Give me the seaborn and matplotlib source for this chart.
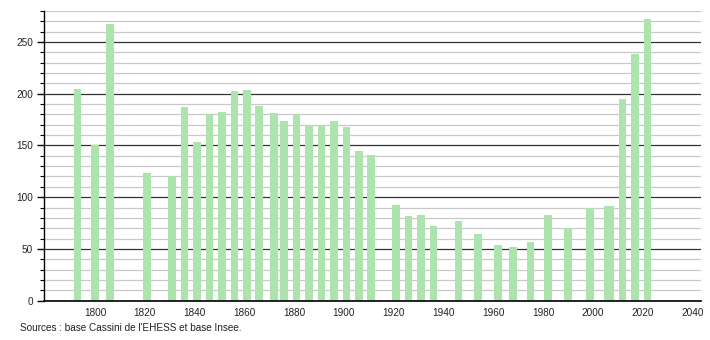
import matplotlib
matplotlib.use("Agg")
import matplotlib.pyplot as plt
import seaborn as sns
import numpy as np
import pandas as pd

years = [1793, 1800, 1806, 1821, 1831, 1836, 1841, 1846, 1851, 1856, 1861, 1866,
         1872, 1876, 1881, 1886, 1891, 1896, 1901, 1906, 1911, 1921, 1926, 1931,
         1936, 1946, 1954, 1962, 1968, 1975, 1982, 1990, 1999, 2006, 2007, 2012,
         2017, 2022]
population = [205, 150, 267, 123, 120, 187, 153, 180, 182, 203, 204, 188,
              181, 174, 180, 170, 170, 174, 168, 145, 141, 92, 82, 83,
              72, 77, 64, 54, 52, 57, 83, 70, 90, 91, 91, 195,
              238, 272]
xticks = [1800, 1820, 1840, 1860, 1880, 1900, 1920, 1940, 1960, 1980, 2000, 2020, 2040]
yticks = [0, 50, 100, 150, 200, 250]
source = "Sources : base Cassini de l'EHESS et base Insee."

df = pd.DataFrame({"year": years, "pop": population})

sns.set_style("white")
plt.rcParams["font.family"] = ["Liberation Sans", "DejaVu Sans"]

fig = plt.figure(figsize=(7.1, 3.4), dpi=100)
ax = fig.add_axes([44/710, 1 - 300.6/340, (701-44)/710, (300.6-11)/340])

sns.barplot(data=df, x="year", y="pop", native_scale=True, width=3.1,
            color="#ade3ad", saturation=1, errorbar=None, linewidth=0, ax=ax)

ax.set_xlim(1779.5, 2043.5)
ax.set_ylim(0, 280)
ax.set_yticks(yticks)
ax.set_yticks(np.arange(0, 281, 10), minor=True)
ax.set_xticks(xticks)
ax.set_xticklabels([str(t) for t in xticks])
ax.set_xlabel("")
ax.set_ylabel("")
ax.set_axisbelow(True)
ax.grid(which="minor", axis="y", color="#c8c8c8", lw=0.9)
ax.grid(which="major", axis="y", color="#333333", lw=0.9)
ax.grid(which="both", axis="x", visible=False)

for s in ["top", "right"]:
    ax.spines[s].set_visible(False)
ax.spines["left"].set_color("black")
ax.spines["bottom"].set_color("black")
ax.spines["left"].set_linewidth(1)
ax.spines["bottom"].set_linewidth(1.2)

ax.tick_params(axis="y", which="major", length=5, width=1, color="black",
               labelsize=7.2, labelcolor="#222222", pad=3)
ax.tick_params(axis="y", which="minor", length=3, width=0.8, color="black")
ax.tick_params(axis="x", which="both", length=0, labelsize=7.2,
               labelcolor="#222222", pad=5)
ax.tick_params(axis="y", left=True, which="both")

fig.text(20/710, 1 - 328/340, source, fontsize=7.2, color="#222222",
         va="center", ha="left")

fig.savefig("out.png", dpi=100)
